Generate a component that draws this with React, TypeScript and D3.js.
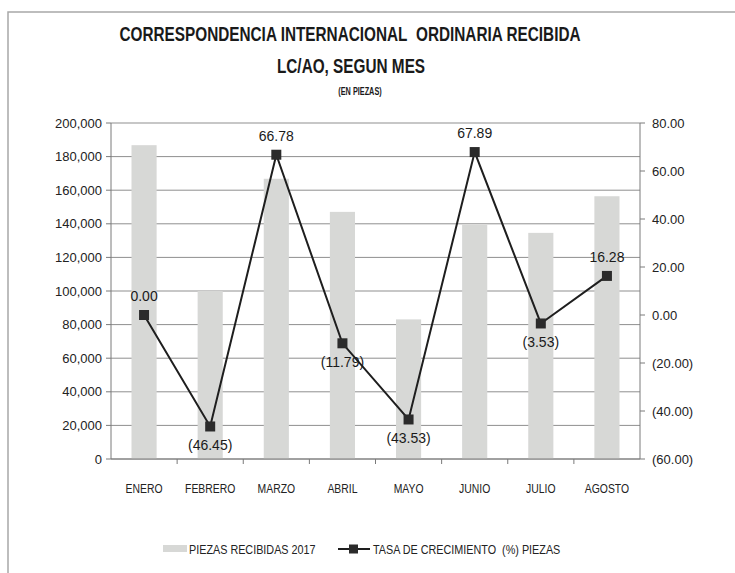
import React from "react";
import * as d3 from "d3";

const months = ["ENERO", "FEBRERO", "MARZO", "ABRIL", "MAYO", "JUNIO", "JULIO", "AGOSTO"];
const piezas = [186800, 100000, 166800, 147100, 83100, 139500, 134600, 156400];
const tasa = [0.0, -46.45, 66.78, -11.79, -43.53, 67.89, -3.53, 16.28];
const leftTicks = [0, 20000, 40000, 60000, 80000, 100000, 120000, 140000, 160000, 180000, 200000];
const rightTicks = [-60, -40, -20, 0, 20, 40, 60, 80];
const titleLines = [
  "CORRESPONDENCIA INTERNACIONAL\u00a0 ORDINARIA RECIBIDA",
  "LC/AO, SEGUN MES",
  "(EN PIEZAS)",
];
const legendLabels = ["PIEZAS RECIBIDAS 2017", "TASA DE CRECIMIENTO\u00a0 (%) PIEZAS"];

const W = 735;
const H = 573;
const margin = { top: 123, right: 95, bottom: 114, left: 111 };
const font = "'Liberation Sans', Arial, sans-serif";

const pct = (v: number) =>
  v < 0 ? `(${Math.abs(v).toFixed(2)})` : v.toFixed(2);

export default function App() {
  const innerW = W - margin.left - margin.right;
  const innerH = H - margin.top - margin.bottom;

  const x = d3.scaleBand<string>().domain(months).range([0, innerW]).padding(0);
  const yL = d3.scaleLinear().domain([0, 200000]).range([innerH, 0]);
  const yR = d3.scaleLinear().domain([-60, 80]).range([innerH, 0]);
  const barW = x.bandwidth() * 0.38;
  const cx = (m: string) => (x(m) ?? 0) + x.bandwidth() / 2;

  const line = d3
    .line<number>()
    .x((_, i) => cx(months[i]))
    .y((d) => yR(d));

  const fmtL = d3.format(",");

  return (
    <svg
      width={W}
      height={H}
      style={{ position: "absolute", left: 0, top: 0, background: "#fff" }}
      fontFamily={font}
    >
      <path d={`M8,${H}V12H${W}`} fill="none" stroke="#a8a8a8" strokeWidth={1.5} />

      {/* title, condensed like the original's narrow bold face */}
      <g textAnchor="middle" fill="#1a1a1a" fontWeight="bold">
        <text transform="translate(350,41) scale(0.73,1)" fontSize={21}>
          {titleLines[0]}
        </text>
        <text transform="translate(351,73) scale(0.73,1)" fontSize={21}>
          {titleLines[1]}
        </text>
        <text transform="translate(360,95) scale(0.73,1)" fontSize={10}>
          {titleLines[2]}
        </text>
      </g>

      <g transform={`translate(${margin.left},${margin.top})`}>
        {/* gridlines */}
        {leftTicks.map((t) => (
          <line key={t} x1={0} x2={innerW} y1={yL(t)} y2={yL(t)} stroke="#8f8f8f" strokeWidth={1} />
        ))}

        {/* bars */}
        {months.map((m, i) => (
          <rect
            key={m}
            x={cx(m) - barW / 2}
            y={yL(piezas[i])}
            width={barW}
            height={innerH - yL(piezas[i])}
            fill="#d7d8d6"
          />
        ))}

        {/* left axis */}
        <line x1={0} x2={0} y1={0} y2={innerH} stroke="#7a7a7a" />
        {leftTicks.map((t) => (
          <g key={t} transform={`translate(0,${yL(t)})`}>
            <line x1={-5} x2={0} stroke="#7a7a7a" />
            <text x={-9} dy="0.35em" textAnchor="end" fontSize={13} fill="#222">
              {fmtL(t)}
            </text>
          </g>
        ))}

        {/* right axis */}
        <line x1={innerW} x2={innerW} y1={0} y2={innerH} stroke="#7a7a7a" />
        {rightTicks.map((t) => (
          <g key={t} transform={`translate(${innerW},${yR(t)})`}>
            <line x1={0} x2={5} stroke="#7a7a7a" />
            <text x={12} dy="0.35em" fontSize={13} fill="#222">
              {pct(t)}
            </text>
          </g>
        ))}

        {/* bottom axis */}
        <line x1={0} x2={innerW} y1={innerH} y2={innerH} stroke="#7a7a7a" />
        {months.map((m, i) => (
          <g key={m}>
            {i > 0 && (
              <line x1={x(m)} x2={x(m)} y1={innerH} y2={innerH + 5} stroke="#7a7a7a" />
            )}
            <text
              transform={`translate(${cx(m)},${innerH + 34}) scale(0.8,1)`}
              textAnchor="middle"
              fontSize={13}
              fill="#222"
            >
              {m}
            </text>
          </g>
        ))}

        {/* line series */}
        <path d={line(tasa) ?? ""} fill="none" stroke="#1e1e1e" strokeWidth={2} />
        {tasa.map((v, i) => (
          <rect key={i} x={cx(months[i]) - 5} y={yR(v) - 5} width={10} height={10} fill="#2b2b2b" />
        ))}
        {tasa.map((v, i) => (
          <text
            key={i}
            x={cx(months[i])}
            y={v < 0 ? yR(v) + 24 : yR(v) - 14}
            textAnchor="middle"
            fontSize={14}
            fill="#1a1a1a"
          >
            {pct(v)}
          </text>
        ))}
      </g>

      {/* legend */}
      <g fill="#222" fontSize={12}>
        <rect x={163} y={545} width={24} height={7} fill="#d7d8d6" />
        <text transform="translate(189,554) scale(0.9,1)">{legendLabels[0]}</text>
        <line x1={338} x2={370} y1={549} y2={549} stroke="#1e1e1e" strokeWidth={2} />
        <rect x={349} y={544.5} width={9} height={9} fill="#2b2b2b" />
        <text transform="translate(373,554) scale(0.9,1)">{legendLabels[1]}</text>
      </g>
    </svg>
  );
}
